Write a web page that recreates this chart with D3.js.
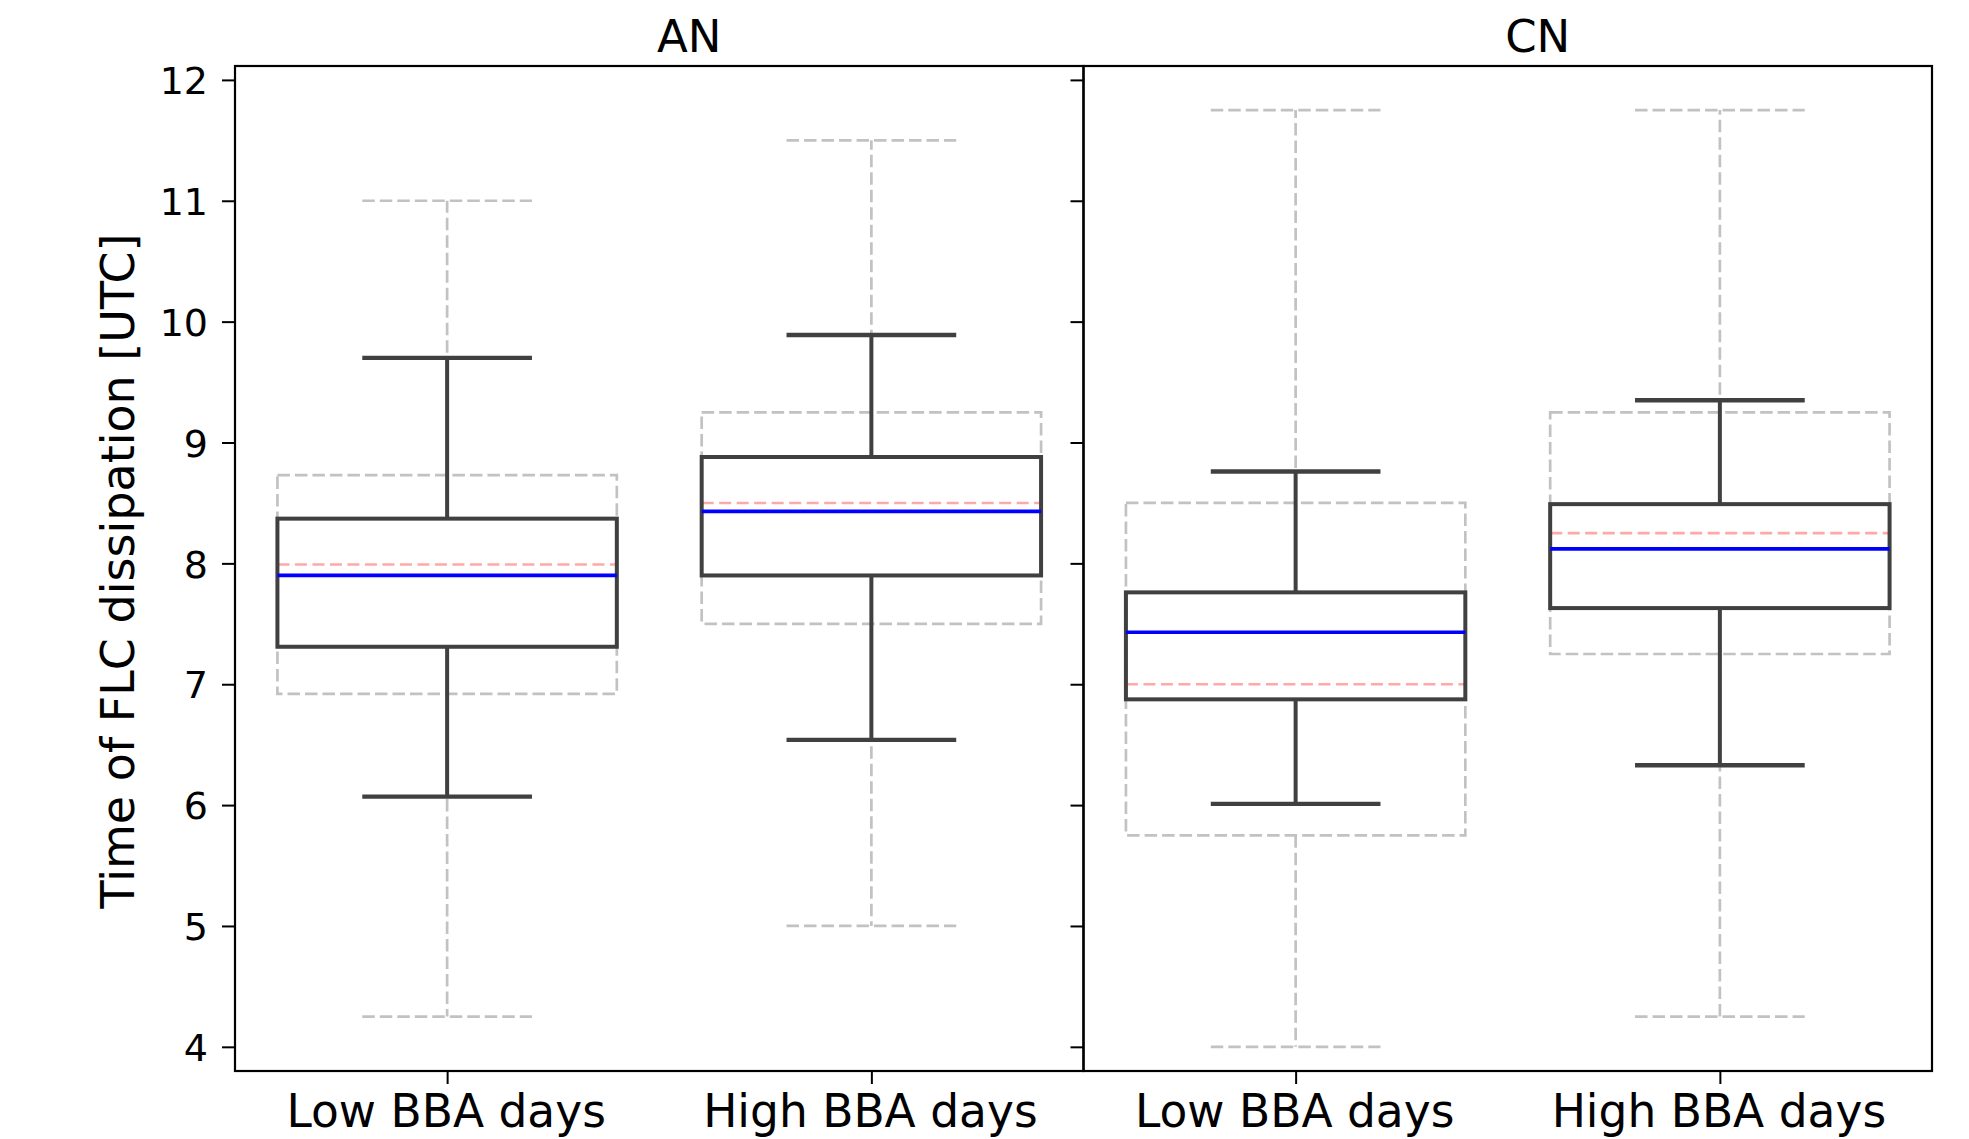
<!DOCTYPE html>
<html>
<head>
<meta charset="utf-8">
<script src="https://cdn.jsdelivr.net/npm/d3@7"></script>
<style>
  html, body { margin: 0; padding: 0; background: #fff; }
  svg text { font-family: "DejaVu Sans", sans-serif; fill: #000; }
</style>
</head>
<body>
<div id="chart"></div>
<script>
// two panels of box plots, grey dashed reference boxes behind solid ones

const panels = ["AN", "CN"];
const categories = ["Low BBA days", "High BBA days"];
const yTicks = [4, 5, 6, 7, 8, 9, 10, 11, 12];

// [whisker low, q1, median, q3, whisker high]
const refAN = [[4.25, 6.92, 7.99, 8.73, 11.0], [5.0, 7.5, 8.5, 9.25, 11.5]];
const refCN = [[4.0, 5.75, 7.0, 8.5, 11.75], [4.25, 7.25, 8.25, 9.25, 11.75]];
const boxAN = [[6.07, 7.31, 7.90, 8.37, 9.70], [6.54, 7.90, 8.43, 8.88, 9.89]];
const boxCN = [[6.01, 6.875, 7.43, 7.76, 8.76], [6.33, 7.63, 8.12, 8.49, 9.35]];

const refData = { AN: refAN, CN: refCN };
const boxData = { AN: boxAN, CN: boxCN };

const W = 1969, H = 1139;
const plotTop = 66, plotBottom = 1071;
const panelX = [[235, 1083.5], [1083.5, 1932]];

const svg = d3.select("#chart").append("svg")
  .attr("width", W)
  .attr("height", H);

const y = d3.scaleLinear().domain([3.8, 12.115]).range([plotBottom, plotTop]);

function drawBox(g, x, cat, s, opt) {
  const cx = x(cat);
  const bw = x.step() * 0.8;
  const cw = x.step() * 0.4;
  const [lo, q1, med, q3, hi] = s;

  const line = (x1, y1, x2, y2, stroke, sw, dash) => {
    g.append("line")
      .attr("x1", x1).attr("y1", y1).attr("x2", x2).attr("y2", y2)
      .attr("stroke", stroke)
      .attr("stroke-width", sw)
      .attr("stroke-dasharray", dash || null);
  };

  // whiskers
  line(cx, y(q1), cx, y(lo), opt.color, opt.width, opt.dash);
  line(cx, y(q3), cx, y(hi), opt.color, opt.width, opt.dash);
  // caps
  line(cx - cw / 2, y(lo), cx + cw / 2, y(lo), opt.color, opt.capWidth, opt.dash);
  line(cx - cw / 2, y(hi), cx + cw / 2, y(hi), opt.color, opt.capWidth, opt.dash);
  // box
  g.append("rect")
    .attr("x", cx - bw / 2)
    .attr("y", y(q3))
    .attr("width", bw)
    .attr("height", y(q1) - y(q3))
    .attr("fill", "none")
    .attr("stroke", opt.color)
    .attr("stroke-width", opt.width)
    .attr("stroke-dasharray", opt.dash || null);
  // median
  line(cx - bw / 2, y(med), cx + bw / 2, y(med), opt.medColor, opt.medWidth, opt.medDash);
}

panels.forEach((p, i) => {
  const [x0, x1] = panelX[i];
  const x = d3.scalePoint().domain(categories).range([x0, x1]).padding(0.5);
  const g = svg.append("g");

  categories.forEach((c, j) => {
    drawBox(g, x, c, refData[p][j], {
      color: "#c2c2c2", width: 2.7, capWidth: 2.7, dash: "12.5,5",
      medColor: "#ffa8a8", medWidth: 2.6, medDash: "12,5.5"
    });
  });
  categories.forEach((c, j) => {
    drawBox(g, x, c, boxData[p][j], {
      color: "#404040", width: 4, capWidth: 4.4, dash: null,
      medColor: "#0000ff", medWidth: 3.7, medDash: null
    });
  });

  // y axis ticks
  const yAxis = d3.axisLeft(y)
    .tickValues(yTicks)
    .tickSize(13)
    .tickPadding(14)
    .tickFormat(i === 0 ? d3.format("d") : "");
  const yg = svg.append("g")
    .attr("transform", `translate(${x0},0)`)
    .call(yAxis);
  yg.select(".domain").remove();
  yg.selectAll(".tick line").attr("stroke", "#000").attr("stroke-width", 2);
  yg.selectAll(".tick text")
    .attr("font-size", 38)
    .attr("dy", "0.36em")
    .style("font-family", "DejaVu Sans");

  // x axis ticks
  const xAxis = d3.axisBottom(x).tickSize(13).tickPadding(11);
  const xg = svg.append("g")
    .attr("transform", `translate(0,${plotBottom})`)
    .call(xAxis);
  xg.select(".domain").remove();
  xg.selectAll(".tick line").attr("stroke", "#000").attr("stroke-width", 2);
  xg.selectAll(".tick text")
    .attr("font-size", 45.5)
    .attr("dx", -1.5)
    .style("font-family", "DejaVu Sans");

  // frame
  svg.append("rect")
    .attr("x", x0).attr("y", plotTop)
    .attr("width", x1 - x0).attr("height", plotBottom - plotTop)
    .attr("fill", "none")
    .attr("stroke", "#000")
    .attr("stroke-width", 2.2);

  // panel title
  svg.append("text")
    .attr("x", (x0 + x1) / 2 + 30)
    .attr("y", 52)
    .attr("text-anchor", "middle")
    .attr("font-size", 45)
    .text(p);
});

svg.append("text")
  .attr("transform", "translate(134,571) rotate(-90)")
  .attr("text-anchor", "middle")
  .attr("font-size", 46)
  .text("Time of FLC dissipation [UTC]");
</script>
</body>
</html>
